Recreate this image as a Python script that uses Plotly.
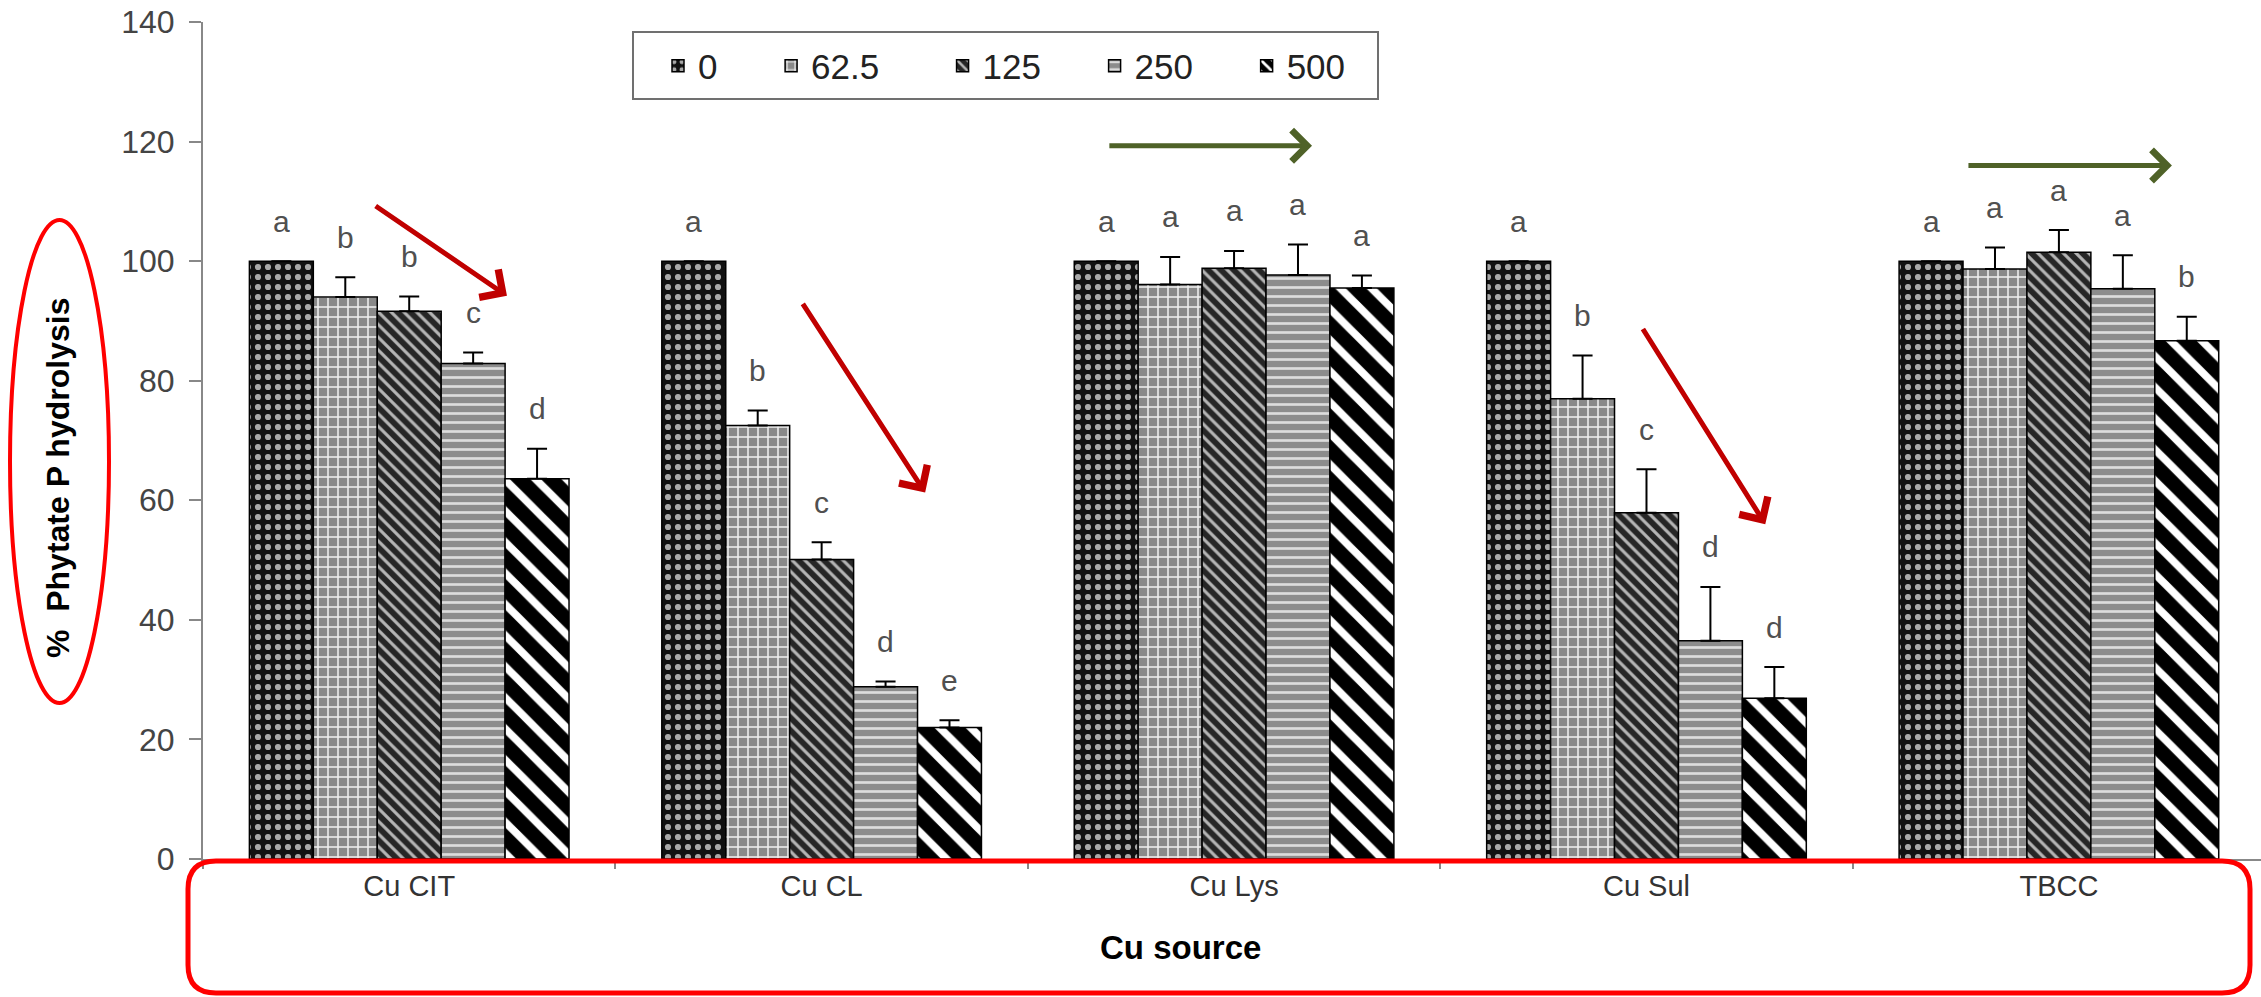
import plotly.graph_objects as go

categories = ["Cu CIT", "Cu CL", "Cu Lys", "Cu Sul", "TBCC"]
doses = ["0", "62.5", "125", "250", "500"]

# % phytate P hydrolysis per dose level (one value per Cu source)
vals_0 = [100, 100, 100, 100, 100]
vals_62 = [94.0, 72.5, 96.1, 77.0, 98.7]
vals_125 = [91.6, 50.1, 98.8, 57.9, 101.5]
vals_250 = [82.9, 28.8, 97.7, 36.5, 95.4]
vals_500 = [63.6, 22.0, 95.5, 26.9, 86.7]

# upper error bars
err_0 = [0, 0, 0, 0, 0]
err_62 = [3.3, 2.5, 4.6, 7.2, 3.6]
err_125 = [2.5, 2.9, 2.9, 7.3, 3.7]
err_250 = [1.8, 0.9, 5.1, 9.0, 5.6]
err_500 = [5.0, 1.2, 2.1, 5.2, 4.0]

# significance letters
let_0 = ["a", "a", "a", "a", "a"]
let_62 = ["b", "b", "a", "b", "a"]
let_125 = ["b", "c", "a", "c", "a"]
let_250 = ["c", "d", "a", "d", "a"]
let_500 = ["d", "e", "a", "d", "b"]

series_vals = [vals_0, vals_62, vals_125, vals_250, vals_500]
series_err = [err_0, err_62, err_125, err_250, err_500]
series_let = [let_0, let_62, let_125, let_250, let_500]

patterns = [
    dict(shape=".", bgcolor="#111111", fgcolor="#a8a8a8", size=10, solidity=0.3, fillmode="replace"),
    dict(shape="+", bgcolor="#8a8a8a", fgcolor="#f2f2f2", size=10, solidity=0.28, fillmode="replace"),
    dict(shape="\\", bgcolor="#262626", fgcolor="#b5b5b5", size=9, solidity=0.35, fillmode="replace"),
    dict(shape="-", bgcolor="#8c8c8c", fgcolor="#dcdcdc", size=9, solidity=0.3, fillmode="replace"),
    dict(shape="\\", bgcolor="#000000", fgcolor="#ffffff", size=22, solidity=0.35, fillmode="replace"),
]

W, H = 2261, 997
L, R, T, B = 203, 0, 22, 138
PW = W - L - R
PH = H - T - B
FONT = "Liberation Sans, Arial"


def px_x(px):
    return (px - L) / PW


def px_y(py):
    return (H - B - py) / PH


fig = go.Figure()
pad = ["\u00a0" * 5, "\u00a0" * 6, "\u00a0" * 5, "\u00a0" * 5, ""]
for j in range(5):
    fig.add_trace(go.Bar(
        x=categories, y=series_vals[j], name=doses[j] + pad[j],
        marker=dict(color=patterns[j]["bgcolor"], pattern=patterns[j],
                    line=dict(color="black", width=1.5)),
        error_y=dict(type="data", symmetric=False, array=series_err[j],
                     arrayminus=[0] * 5, color="black", thickness=2, width=10),
    ))

annotations = []
bw = (1 - 0.225) / 5
for j in range(5):
    for i in range(5):
        annotations.append(dict(
            x=i + (j - 2) * bw, y=series_vals[j][i] + series_err[j][i],
            xref="x", yref="y", text=series_let[j][i], showarrow=False,
            yanchor="middle", yshift=40,
            font=dict(family=FONT, size=30, color="#505050")))

# trend arrows
red_arrows = [((-0.085, 109.4), (0.237, 94.2)),
              ((0.952, 93.1), (1.251, 61.3)),
              ((2.989, 88.9), (3.288, 56.0))]
for (x0, y0), (x1, y1) in red_arrows:
    annotations.append(dict(x=x1, y=y1, ax=x0, ay=y0, xref="x", yref="y",
                            axref="x", ayref="y", showarrow=True, arrowhead=4,
                            arrowsize=1.3, arrowwidth=5, arrowcolor="#c00000", text=""))
green_arrows = [((1.694, 119.3), (2.189, 119.3)),
                ((3.777, 116.0), (4.274, 116.0))]
for (x0, y0), (x1, y1) in green_arrows:
    annotations.append(dict(x=x1, y=y1, ax=x0, ay=y0, xref="x", yref="y",
                            axref="x", ayref="y", showarrow=True, arrowhead=4,
                            arrowsize=1.2, arrowwidth=5, arrowcolor="#4f6228", text=""))

# axis titles
annotations.append(dict(x=px_x(1180), y=px_y(968), xref="paper", yref="paper",
                        text="<b>Cu source</b>", showarrow=False,
                        font=dict(family=FONT, size=33, color="black")))
annotations.append(dict(x=px_x(38), y=px_y(478), xref="paper", yref="paper",
                        text="<b>%\u00a0\u00a0Phytate P hydrolysis</b>", showarrow=False,
                        textangle=-90,
                        font=dict(family=FONT, size=32, color="black")))

shapes = []
# legend box
shapes.append(dict(type="rect", xref="paper", yref="paper",
                   x0=px_x(633), x1=px_x(1378), y0=px_y(99), y1=px_y(32),
                   line=dict(color="#707070", width=2), fillcolor="rgba(0,0,0,0)"))
# red ellipse around y title
shapes.append(dict(type="circle", xref="paper", yref="paper",
                   x0=px_x(10), x1=px_x(109), y0=px_y(703), y1=px_y(220),
                   line=dict(color="#ff0000", width=4)))
# red rounded rectangle around x axis labels
x0, x1 = px_x(188), px_x(2250)
y0, y1 = px_y(993), px_y(861)
rx, ry = 28 / PW, 28 / PH
path = (f"M{x0+rx},{y1} L{x1-rx},{y1} Q{x1},{y1} {x1},{y1-ry} "
        f"L{x1},{y0+ry} Q{x1},{y0} {x1-rx},{y0} L{x0+rx},{y0} "
        f"Q{x0},{y0} {x0},{y0+ry} L{x0},{y1-ry} Q{x0},{y1} {x0+rx},{y1} Z")
shapes.append(dict(type="path", xref="paper", yref="paper", path=path,
                   line=dict(color="#ff0000", width=5), layer="above"))

fig.update_layout(
    width=W, height=H,
    margin=dict(l=L, r=R, t=T, b=B, pad=0),
    paper_bgcolor="white", plot_bgcolor="white",
    barmode="group", bargap=0.225, bargroupgap=0,
    font=dict(family=FONT, color="#333"),
    showlegend=True,
    legend=dict(orientation="h", x=px_x(658), y=px_y(66), xanchor="left",
                yanchor="middle", bgcolor="rgba(0,0,0,0)", borderwidth=0,
                font=dict(family=FONT, size=35, color="#222")),
    annotations=annotations,
    shapes=shapes,
    xaxis=dict(type="category", range=[-0.5, 4.49], showline=True, linecolor="#888",
               linewidth=2, ticks="outside", tickson="boundaries", ticklen=8,
               tickcolor="#888", tickwidth=2, showgrid=False, zeroline=False,
               tickfont=dict(family=FONT, size=29, color="#333")),
    yaxis=dict(range=[0, 140], tickvals=[0, 20, 40, 60, 80, 100, 120, 140],
               showline=True, linecolor="#888", linewidth=2, ticks="outside",
               ticklen=12, tickcolor="#888", tickwidth=2, showgrid=False,
               zeroline=False, ticklabelstandoff=8,
               tickfont=dict(family=FONT, size=32, color="#444")),
)

fig.write_html("out.html")
